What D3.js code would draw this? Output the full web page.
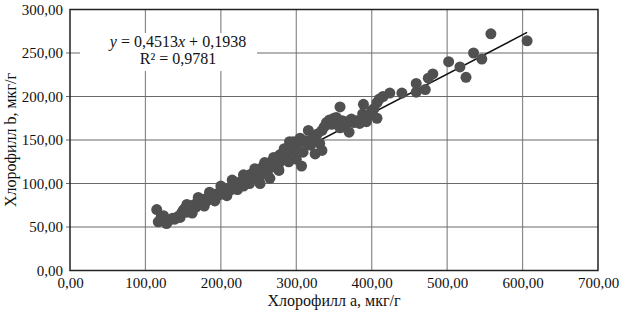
<!DOCTYPE html>
<html>
<head>
<meta charset="utf-8">
<script src="https://cdn.jsdelivr.net/npm/d3@7"></script>
<style>
  html, body { margin: 0; padding: 0; background: #fff; }
  svg { display: block; }
  text { font-family: "Liberation Serif", "DejaVu Serif", serif; fill: #111; }
</style>
</head>
<body>
<svg id="chart" width="620" height="313"></svg>
<script>
// ---- data ----
const chlA = [115,117,121,124,128,132,136,139,143,146,148,150,152,155,157,160,162,165,167,170,172,175,178,180,183,186,188,191,194,196,199,202,205,208,211,214,217,220,222,225,228,230,232,235,238,240,243,246,249,252,252,254,256,259,262,265,265,268,270,272,275,277,278,280,283,286,289,291,294,297,299,302,305,307,309,312,314,316,319,322,325,328,331,334,334,337,340,344,347,350,353,355,358,358,361,364,367,370,373,376,380,384,388,389,393,396,400,403,407,407,410,415,424,440,459,459,471,475,481,502,517,525,535,546,558,606,
  155,162,170,178,185,192,200,208,215,222,230,238,245,250,258,262,270,276,284,290,296,300];
const chlB = [70,56,62,63,54,58,60,59,62,61,66,69,71,67,72,70,74,76,73,78,80,77,82,79,84,82,86,85,88,86,90,88,92,90,95,93,98,96,101,99,103,97,107,104,110,106,112,108,115,110,100,118,113,120,116,124,106,119,127,121,129,115,133,126,136,131,140,148,137,143,139,146,152,120,136,149,146,161,144,152,134,157,146,161,138,165,170,173,168,175,176,169,164,188,172,166,171,159,174,170,172,169,180,191,171,178,184,186,175,193,197,200,204,204,205,215,208,221,226,240,234,222,250,243,272,264,
  76,66,84,74,90,80,97,86,104,93,110,100,117,105,124,110,130,118,140,125,148,128];
const xTicks = [0,100,200,300,400,500,600,700];
const yTicks = [0,50,100,150,200,250,300];
const slope = 0.4513, intercept = 0.1938;
const eqLine1 = ["y", " = 0,4513", "x", " + 0,1938"];
const eqLine2 = "R² = 0,9781";
const xTitle = "Хлорофилл а, мкг/г";
const yTitle = "Хлорофилл b, мкг/г";

const fmt = v => v.toFixed(2).replace(".", ",");

const svg = d3.select("#chart");
const L = 70, R = 598, T = 9.5, B = 270.5;
const x = d3.scaleLinear().domain([0, 700]).range([L, R]);
const y = d3.scaleLinear().domain([0, 300]).range([B, T]);

// gridlines
svg.append("g").selectAll("line").data(xTicks.slice(1, -1)).join("line")
  .attr("x1", d => x(d)).attr("x2", d => x(d)).attr("y1", T).attr("y2", B)
  .attr("stroke", "#8a8a8a").attr("stroke-width", 1.2);
svg.append("g").selectAll("line").data(yTicks.slice(1, -1)).join("line")
  .attr("x1", L - 4).attr("x2", R).attr("y1", d => y(d)).attr("y2", d => y(d))
  .attr("stroke", "#6a6a6a").attr("stroke-width", 1.2);

// white box behind equation
svg.append("rect").attr("x", 80).attr("y", 33).attr("width", 177).attr("height", 38).attr("fill", "#fff");

// plot border
svg.append("rect").attr("x", L).attr("y", T).attr("width", R - L).attr("height", B - T)
  .attr("fill", "none").attr("stroke", "#222").attr("stroke-width", 1.5);

// axes labels via d3 axes
const xAxis = svg.append("g").attr("transform", `translate(0,${B})`)
  .call(d3.axisBottom(x).tickValues(xTicks).tickFormat(fmt).tickSize(0).tickPadding(7));
xAxis.select(".domain").remove();
xAxis.selectAll("text").attr("font-size", 15).attr("font-family", "Liberation Serif").attr("fill", "#111");

const yAxis = svg.append("g").attr("transform", `translate(${L},0)`)
  .call(d3.axisLeft(y).tickValues(yTicks).tickFormat(fmt).tickSize(0).tickPadding(7));
yAxis.select(".domain").remove();
yAxis.selectAll("text").attr("font-size", 15).attr("font-family", "Liberation Serif").attr("fill", "#111");

// trend line (beneath points)
const xmin = d3.min(chlA), xmax = d3.max(chlA);
svg.append("line")
  .attr("x1", x(xmin)).attr("y1", y(slope * xmin + intercept))
  .attr("x2", x(xmax)).attr("y2", y(slope * xmax + intercept))
  .attr("stroke", "#111").attr("stroke-width", 1.5);

// points
const pts = chlA.map((a, i) => ({a, b: chlB[i]}));
svg.append("g").selectAll("circle").data(pts).join("circle")
  .attr("cx", d => x(d.a)).attr("cy", d => y(d.b)).attr("r", 5.5)
  .attr("fill", "#505050");

// equation
const eq = svg.append("text").attr("x", 178).attr("y", 47).attr("text-anchor", "middle").attr("font-size", 16);
eqLine1.forEach((s, i) => eq.append("tspan").text(s).attr("font-style", (i % 2 === 0) ? "italic" : "normal"));
svg.append("text").attr("x", 178).attr("y", 64).attr("text-anchor", "middle").attr("font-size", 16).text(eqLine2);

// axis titles
svg.append("text").attr("x", 334).attr("y", 306).attr("text-anchor", "middle").attr("font-size", 16).text(xTitle);
svg.append("text").attr("transform", "translate(16,140) rotate(-90)").attr("text-anchor", "middle").attr("font-size", 16).text(yTitle);
</script>
</body>
</html>
